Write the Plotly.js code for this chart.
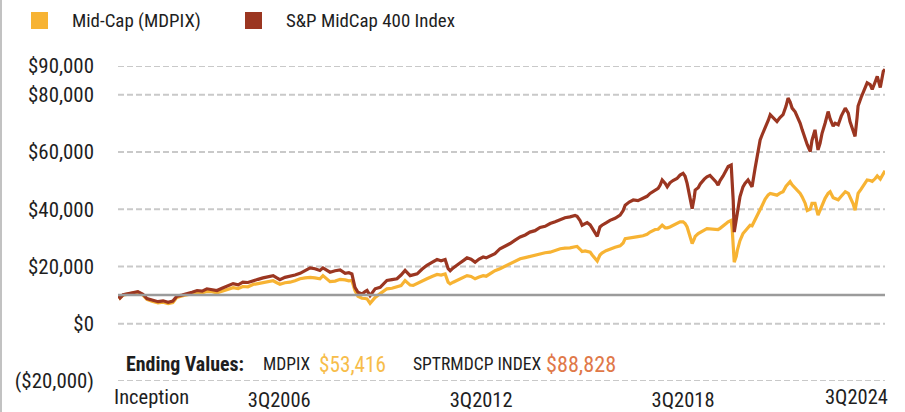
<!DOCTYPE html>
<html><head><meta charset="utf-8">
<script src="https://cdn.plot.ly/plotly-3.0.1.min.js"></script>
<style>html,body{margin:0;padding:0;background:#fff}#chart{width:905px;height:412px}</style>
</head><body><div id="chart"></div>
<script>
const seriesNames = ['Mid-Cap (MDPIX)', 'S&P MidCap 400 Index'];
const endingLabels = ['MDPIX', 'SPTRMDCP INDEX'];

const years = [
 2001.96,2002.02,2002.11,2002.23,2002.41,2002.55,2002.70,2002.82,2002.97,2003.15,
 2003.30,2003.45,2003.59,2003.71,2003.86,2004.01,2004.16,2004.31,2004.46,2004.60,
 2004.75,2004.90,2005.05,2005.20,2005.38,2005.53,2005.67,2005.82,2005.97,2006.12,
 2006.27,2006.42,2006.57,2006.68,2006.77,2006.92,2007.07,2007.22,2007.37,2007.52,
 2007.67,2007.81,2007.96,2008.05,2008.17,2008.26,2008.41,2008.56,2008.71,2008.82,
 2008.91,2009.00,2009.09,2009.21,2009.30,2009.36,2009.45,2009.51,2009.60,2009.75,
 2009.87,2009.95,2010.10,2010.25,2010.37,2010.49,2010.64,2010.73,2010.85,2010.99,
 2011.14,2011.29,2011.44,2011.56,2011.68,2011.77,2011.83,2011.92,2012.03,2012.12,
 2012.24,2012.33,2012.45,2012.57,2012.69,2012.81,2012.90,2013.02,2013.16,2013.31,
 2013.46,2013.61,2013.76,2013.91,2014.06,2014.20,2014.35,2014.50,2014.65,2014.80,
 2014.95,2015.10,2015.24,2015.39,2015.54,2015.60,2015.69,2015.75,2015.84,2015.90,
 2015.99,2016.05,2016.14,2016.20,2016.28,2016.34,2016.46,2016.58,2016.73,2016.88,
 2016.97,2017.03,2017.15,2017.27,2017.41,2017.56,2017.68,2017.77,2017.92,2018.01,
 2018.07,2018.13,2018.22,2018.28,2018.36,2018.45,2018.57,2018.66,2018.75,2018.81,
 2018.87,2018.93,2018.99,2019.02,2019.08,2019.11,2019.20,2019.26,2019.38,2019.46,
 2019.55,2019.64,2019.73,2019.79,2019.85,2019.94,2020.03,2020.09,2020.18,2020.21,
 2020.24,2020.27,2020.33,2020.36,2020.44,2020.53,2020.59,2020.68,2020.74,2020.80,
 2020.89,2020.95,2021.04,2021.10,2021.19,2021.28,2021.34,2021.43,2021.54,2021.63,
 2021.72,2021.81,2021.87,2021.93,2021.99,2022.08,2022.14,2022.23,2022.29,2022.38,
 2022.44,2022.53,2022.58,2022.67,2022.76,2022.82,2022.88,2022.97,2023.06,2023.12,
 2023.21,2023.27,2023.36,2023.45,2023.57,2023.66,2023.71,2023.80,2023.86,2023.92,
 2023.95,2024.04,2024.13,2024.22,2024.31,2024.37,2024.46,2024.52,2024.61,2024.70,2024.75
];

const fundValues = [
 10000,9000,10000,10300,10600,11000,10000,8500,7900,7300,
 7500,7000,7400,9200,9700,10000,10500,11000,10800,11300,
 11200,10800,11400,11900,12600,12300,13000,12900,13700,14000,
 14400,14800,15000,14300,13800,14300,14500,15000,15700,16000,
 16200,16000,15700,16800,15500,14700,14900,15500,15300,15000,
 15100,11600,9600,8900,8800,8650,7100,8000,9200,10500,
 11500,12200,12400,12800,13300,15100,13500,13400,14000,14800,
 15700,16500,17200,17000,17400,14500,13900,14500,15100,15600,
 16300,16800,16500,15700,16300,16800,16600,17600,18500,19200,
 20000,20900,21800,22700,23100,23500,24000,24500,24800,25000,
 25600,26200,26400,26500,26900,27000,26000,25200,25400,25300,
 25000,24000,22600,21900,24000,24700,25500,26100,26700,27200,
 28200,29700,30000,30300,30400,30700,31200,32000,32900,33000,
 33600,34400,33500,33500,33800,34300,35000,35600,35600,35000,
 33800,31500,28800,28000,29500,30500,31500,32000,32700,33200,
 33100,32800,32700,32900,33300,34000,35000,35600,36100,33000,
 28000,21500,23500,25500,29000,31500,32300,33500,34400,34200,
 36500,38000,40000,41300,43500,45000,45500,45300,44900,45600,
 46100,48000,49000,49600,48500,47500,46700,45500,44300,42000,
 39500,40000,42000,42000,37900,39500,41500,43800,45500,46100,
 44000,43700,43300,44500,46100,45500,44200,42000,39600,43000,
 45500,47000,48500,50200,50000,49700,50700,51600,50500,52500,53416
];

const indexValues = [
 10000,9000,10100,10400,10800,11200,10300,8800,8300,7700,
 8000,7500,7900,9600,10000,10400,11000,11600,11400,12200,
 12000,11600,12400,13000,14000,13600,14500,14400,15100,15500,
 16000,16500,16800,16000,15400,16200,16500,17000,17600,18600,
 19500,19200,18600,19500,18800,18000,18500,18800,17600,17800,
 17400,12700,11000,10400,11200,11600,9800,10600,12200,12700,
 14000,15100,15400,15700,17000,18600,16800,17000,17400,19000,
 20400,21400,22400,22000,22400,19200,18500,19500,20300,21200,
 22200,23000,22500,21500,22600,23300,23000,23700,24500,26200,
 27000,28000,29200,30300,31000,32000,32500,33600,34000,35000,
 35600,36400,37000,37300,37800,37500,36000,34400,35000,35300,
 34500,33200,31500,30500,33800,34400,35200,36100,36800,37900,
 39500,41400,42500,43200,43000,43700,44500,45500,46500,47300,
 48400,50200,49000,47800,49200,50000,50700,51900,52500,51500,
 49000,45000,41000,40200,44000,46700,47500,48800,50500,51300,
 51800,50700,49500,48400,50000,51600,53500,54900,55400,50000,
 43000,32000,36000,38500,44300,47800,49000,50200,49000,47800,
 54300,58900,64200,66000,68300,71000,73000,72000,70600,72000,
 73000,76000,78800,77500,75300,74000,72400,70000,67700,64500,
 62500,60100,64000,67700,60700,63000,66500,70000,74100,71500,
 69000,70000,69500,72500,75300,73500,70600,67500,65400,72000,
 76000,79000,81500,84100,83500,81800,84500,86400,82500,88200,88828
];

const initialInvestment = 10000;
const xTickVals = [2006.75, 2012.75, 2018.75];
const xTickText = ['3Q2006', '3Q2012', '3Q2018'];
const firstLabel = 'Inception';
const lastLabel = '3Q2024';
const yTickVals = [-20000, 0, 20000, 40000, 60000, 80000, 90000];
const yTickText = ['($20,000)', '$0', '$20,000', '$40,000', '$60,000', '$80,000', '$90,000'];

const FUND_COLOR = '#F7B333';
const INDEX_COLOR = '#9B3621';
const GRID_COLOR = '#c9c9c9';
const TEXT = '#1e1e1e';

// pick the narrowest installed condensed family
const ctx = document.createElement('canvas').getContext('2d');
function measure(font, s) { ctx.font = font; return ctx.measureText(s).width; }
const probe = 'Mid-Cap (MDPIX) $90,000 Wg';
const CANDIDATES = ['Roboto Condensed', 'Liberation Sans Narrow', 'Arial Narrow', 'Open Sans Condensed', 'DejaVu Sans Condensed'];
let FAMILY = 'DejaVu Sans Condensed';
for (const f of CANDIDATES) {
  if (measure(`100px "${f}", monospace`, probe) !== measure('100px monospace', probe)) { FAMILY = f; break; }
}
const FONT = `"${FAMILY}", "DejaVu Sans Condensed", sans-serif`;
// font size that makes a string as wide as it is in the reference
function fit(s, target, bold) {
  return Math.round(10 * target * 100 / measure(`${bold ? 'bold ' : ''}100px ${FONT}`, s)) / 10;
}
const yTickSize = fit('$90,000', 66);
const xTickSize = fit('3Q2006', 63);
const legendSize = fit(seriesNames[0], 129);

const fmt = v => '$' + Math.round(v).toLocaleString('en-US');
const lastFund = fundValues[fundValues.length - 1];
const lastIndex = indexValues[indexValues.length - 1];

const traces = [
  {x: years, y: fundValues, type: 'scatter', mode: 'lines', name: seriesNames[0], showlegend: false,
   line: {color: FUND_COLOR, width: 3.2}, hoverinfo: 'skip'},
  {x: years, y: indexValues, type: 'scatter', mode: 'lines', name: seriesNames[1], showlegend: false,
   line: {color: INDEX_COLOR, width: 3.2}, hoverinfo: 'skip'}
];

const L = 118, R = 20, T = 66, B = 31, W = 905, H = 412;
const pw = W - L - R, ph = H - T - B;
const px = v => (v - L) / pw;       // page x -> paper x
const py = v => (H - B - v) / ph;   // page y -> paper y

function label(text, x, y, size, color, anchor) {
  return {text: text, xref: 'paper', yref: 'paper', x: px(x), y: py(y), xanchor: anchor || 'left',
          yanchor: 'middle', showarrow: false, borderpad: 0, font: {family: FONT, size: size, color: color || TEXT}};
}

const annotations = [
  label(seriesNames[0], 71, 20.5, legendSize),
  label(seriesNames[1], 285, 20.5, legendSize),
  label(firstLabel, 113, 397, xTickSize),
  label(lastLabel, 889, 397, xTickSize, TEXT, 'right'),
  label('<b>Ending Values:</b>', 125, 364, fit('Ending Values:', 118, true)),
  label(endingLabels[0], 262, 364, fit(endingLabels[0], 47)),
  label(fmt(lastFund), 318, 364, fit(fmt(lastFund), 67), '#F7BD4A'),
  label(endingLabels[1], 412, 364, fit(endingLabels[1], 128)),
  label(fmt(lastIndex), 545, 364, fit(fmt(lastIndex), 70), '#E07848')
];

const legendBox = (x0, color) => ({type: 'rect', xref: 'paper', yref: 'paper', x0: px(x0), x1: px(x0 + 17),
  y0: py(29), y1: py(12), fillcolor: color, line: {width: 0}, layer: 'above'});

const gridLines = yTickVals.map(v => ({type: 'line', xref: 'paper', yref: 'y', x0: 0, x1: 1, y0: v, y1: v,
  line: {color: GRID_COLOR, width: 2, dash: '6px,3px'}, layer: 'below'}));

const layout = {
  width: W, height: H,
  margin: {l: L, r: R, t: T, b: B, pad: 0, autoexpand: false},
  paper_bgcolor: '#fff', plot_bgcolor: '#fff',
  font: {family: FONT, size: yTickSize, color: TEXT},
  showlegend: false,
  xaxis: {type: 'linear', range: [years[0], years[years.length - 1]], showgrid: false, zeroline: false,
          showline: false, ticks: '', tickmode: 'array', tickvals: xTickVals, ticktext: xTickText,
          tickfont: {family: FONT, size: xTickSize, color: TEXT}, ticklabelstandoff: 4, fixedrange: true},
  yaxis: {range: [-20000, 90000], tickmode: 'array', tickvals: yTickVals, ticktext: yTickText,
          showgrid: false, zeroline: false, showline: false, ticks: '', ticklabelstandoff: 23,
          tickfont: {family: FONT, size: yTickSize, color: TEXT}, fixedrange: true},
  shapes: gridLines.concat([
    {type: 'line', xref: 'paper', yref: 'y', x0: 0, x1: 1, y0: initialInvestment, y1: initialInvestment,
     line: {color: '#9b9b9b', width: 2.5}, layer: 'above'},
    {type: 'line', xref: 'paper', yref: 'paper', x0: px(1), x1: px(1), y0: py(H), y1: py(0),
     line: {color: '#c2c2c2', width: 2}, layer: 'above'},
    legendBox(31, FUND_COLOR),
    legendBox(245, INDEX_COLOR)
  ]),
  annotations: annotations
};

Plotly.newPlot('chart', traces, layout, {staticPlot: true, displayModeBar: false});
</script></body></html>
